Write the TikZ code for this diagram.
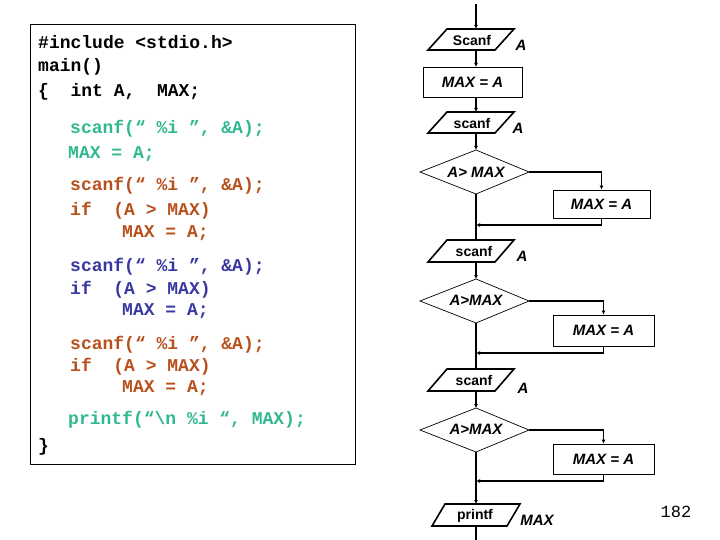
\documentclass[tikz,border=0pt]{standalone}
\usepackage{fontspec}
\setmainfont{Liberation Sans}
\newfontfamily\codef{Liberation Mono}
\usetikzlibrary{arrows.meta}
\definecolor{cteal}{HTML}{30B890}
\definecolor{cbrown}{HTML}{B8501C}
\definecolor{cblue}{HTML}{3838A0}
\begin{document}
\begin{tikzpicture}[x=1pt,y=-1pt,
  code/.style={anchor=west,inner sep=0pt,font=\codef\bfseries\fontsize{18}{20}\selectfont},
  lbl/.style={inner sep=0pt,font=\bfseries\itshape\fontsize{15}{17}\selectfont},
  io/.style={inner sep=0pt,font=\bfseries\fontsize{14}{16}\selectfont},
  shp/.style={draw,line width=0.7pt},
  para/.style={draw,line width=1.6pt},
  flow/.style={line width=1.6pt},
  arr/.style={flow,-{Latex[length=4pt,width=4pt]}}]
\useasboundingbox (0,0) rectangle (720,540);
\draw[line width=0.8pt] (30,24) rectangle (355,464);
\node[code] (c1) at (38,42) {\#include <stdio.h>};
\node[code] (c2) at (38,67) {main()};
\node[code] (c3) at (38,92) {\{~~int~A,~~MAX;};
\node[code,cteal] (c4) at (70,129) {scanf(“~\%i~”,~\&A);};
\node[code,cteal] (c5) at (68,154) {MAX = A;};
\node[code,cbrown] (c6) at (70,186) {scanf(“~\%i~”,~\&A);};
\node[code,cbrown] (c7) at (70,211) {if~~(A > MAX)};
\node[code,cbrown] (c8) at (122,233) {MAX = A;};
\node[code,cblue] (c9) at (70,267) {scanf(“~\%i~”,~\&A);};
\node[code,cblue] (c10) at (70,290) {if~~(A > MAX)};
\node[code,cblue] (c11) at (122,311) {MAX = A;};
\node[code,cbrown] (c12) at (70,345) {scanf(“~\%i~”,~\&A);};
\node[code,cbrown] (c13) at (70,367) {if~~(A > MAX)};
\node[code,cbrown] (c14) at (122,388) {MAX = A;};
\node[code,cteal] (c15) at (68,420) {printf(“\textbackslash n~\%i~“,~MAX);};
\node[code] (c16) at (38,447) {\}};
% shapes
\draw[para] (447,29) -- (514,29) -- (495,50) -- (428,50) -- cycle;
\node[io] (p1) at (472,40) {Scanf}; \node[lbl] (a1) at (521,45) {A};
\node[shp,minimum width=99pt,minimum height=30pt,inner sep=0pt] (r0) at (472.5,82) {};
\node[lbl] (t0) at (r0) {MAX~=~A};
\draw[para] (447,112) -- (514,112) -- (495,133) -- (428,133) -- cycle;
\node[io] (p2) at (472,123) {scanf}; \node[lbl] (a2) at (518,128) {A};
\draw[shp] (420,172) -- (476,150) -- (529,172) -- (476,194) -- cycle;
\node[lbl] (d1) at (476,172) {A> MAX};
\node[shp,minimum width=97pt,minimum height=28pt,inner sep=0pt] (r1) at (601.5,204) {};
\node[lbl] (t1) at (r1) {MAX~=~A};
\draw[para] (447,240) -- (514,240) -- (495,262) -- (428,262) -- cycle;
\node[io] (p3) at (474,251) {scanf}; \node[lbl] (a3) at (522,256) {A};
\draw[shp] (420,301) -- (476,279) -- (529,301) -- (476,323) -- cycle;
\node[lbl] (d2) at (476,300) {A>MAX};
\node[shp,minimum width=101pt,minimum height=31pt,inner sep=0pt] (r2) at (603.5,330.5) {};
\node[lbl] (t2) at (r2) {MAX~=~A};
\draw[para] (447,369) -- (514,369) -- (495,391) -- (428,391) -- cycle;
\node[io] (p4) at (474,380) {scanf}; \node[lbl] (a4) at (523,388) {A};
\draw[shp] (420,430) -- (476,408) -- (529,430) -- (476,452) -- cycle;
\node[lbl] (d3) at (476,429) {A>MAX};
\node[shp,minimum width=101pt,minimum height=30pt,inner sep=0pt] (r3) at (603.5,459) {};
\node[lbl] (t3) at (r3) {MAX~=~A};
\draw[para] (445,504) -- (520,504) -- (507,526) -- (432,526) -- cycle;
\node[io] (p5) at (475,516) {printf}; \node[lbl] (a5) at (537,520) {MAX};
\node[font=\codef\fontsize{17}{19}\selectfont] (pg) at (676,512) {182};
% connectors
\coordinate (s0) at (476,4);
\draw[arr] (s0) -- (476,29);
\draw[arr] (476,50) -- (476,67);
\draw[arr] (476,97) -- (476,112);
\draw[arr] (476,133) -- (476,150);
\draw[arr] (529,172) -| (r1.north);
\draw[flow] (476,194) -- (476,240);
\draw[arr] (r1.south) |- (476,225);
\draw[arr] (476,262) -- (476,279);
\draw[arr] (529,301) -| (r2.north);
\draw[flow] (476,323) -- (476,369);
\draw[arr] (r2.south) |- (476,353);
\draw[arr] (476,391) -- (476,408);
\draw[arr] (529,430) -| (r3.north);
\draw[arr] (476,452) -- (476,504);
\draw[arr] (r3.south) |- (476,481);
\draw[flow] (476,526) -- (476,540);
\end{tikzpicture}
\end{document}
